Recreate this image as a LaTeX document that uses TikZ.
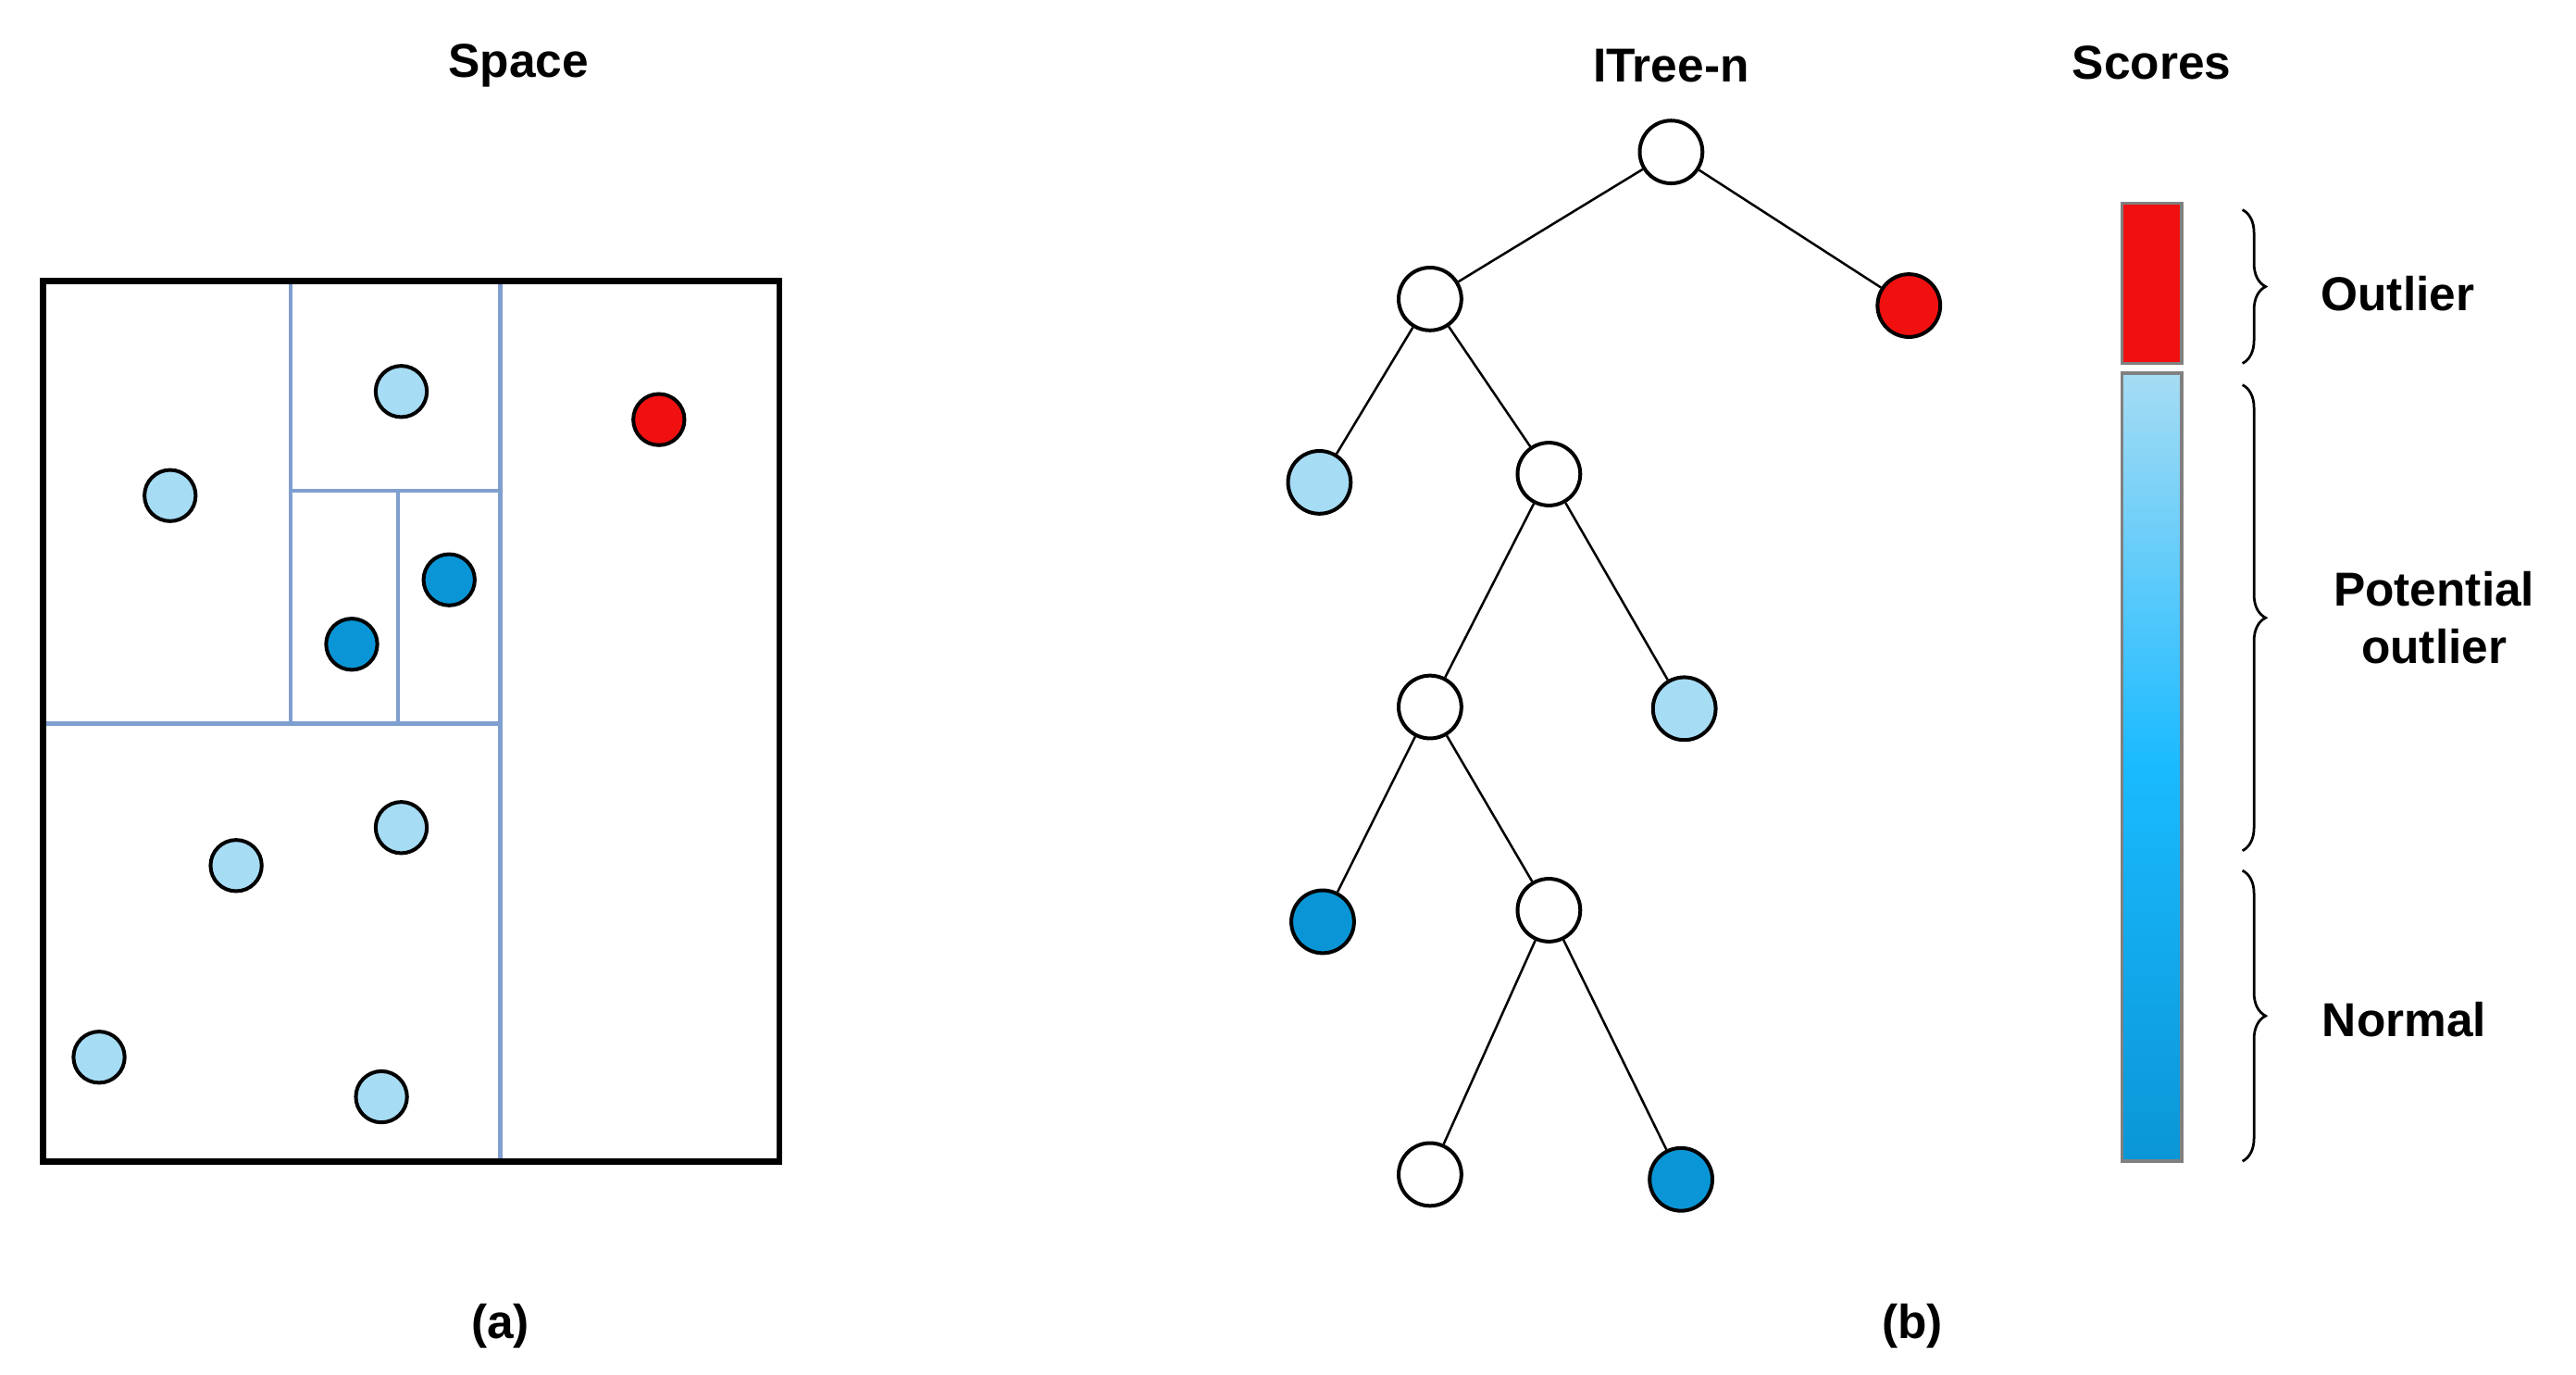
\documentclass[tikz,border=0pt]{standalone}
\usepackage{fontspec}
\setmainfont{Liberation Sans}
\usetikzlibrary{decorations.pathreplacing}
\definecolor{lb}{HTML}{A6DCF4}
\definecolor{db}{HTML}{0A96D6}
\definecolor{rd}{HTML}{F01010}
\definecolor{ln}{HTML}{7F9FCF}
\begin{document}
\begin{tikzpicture}[x=0.5mm,y=-0.5mm,
  lbl/.style={font=\fontsize{41}{50}\selectfont\bfseries},
  pt/.style={circle,draw=black,line width=3.2pt,inner sep=0pt,minimum size=15.5mm},
  tn/.style={circle,draw=black,line width=3.2pt,inner sep=0pt,minimum size=19mm},
  part/.style={draw=ln,line width=3.4pt},
  br/.style={decorate,decoration={brace,amplitude=7mm},line width=2.2pt}]
\useasboundingbox (0,0) rectangle (1560,832);
\node[lbl] (t1) at (314,40) {Space};
\node[lbl] (t2) at (1012,40) {ITree-n};
\node[lbl] (t3) at (1303,38) {Scores};
\node[lbl] (ca) at (303,803) {(a)};
\node[lbl] (cb) at (1158,803) {(b)};
% partitions
\draw[part] (303,170) -- (303,703);
\draw[part] (26,438) -- (303,438);
\draw[part] (176,170) -- (176,438);
\draw[part] (176,297) -- (303,297);
\draw[part] (241,297) -- (241,438);
\draw[line width=5.5pt] (26,170) rectangle (472,703);
\foreach \p/\x/\y in {a/243/237,b/103/300,c/143/524,d/243/501,e/60/640,f/231/664}
  \node[pt,fill=lb] (p\p) at (\x,\y) {};
\node[pt,fill=db] (pg) at (272,351) {};
\node[pt,fill=db] (ph) at (213,390) {};
\node[pt,fill=rd] (pr) at (399,254) {};
% tree
\node[tn,fill=white] (r) at (1012,92) {};
\node[tn,fill=white] (n1) at (866,181) {};
\node[tn,fill=rd] (o) at (1156,185) {};
\node[tn,fill=lb] (l1) at (799,292) {};
\node[tn,fill=white] (n2) at (938,287) {};
\node[tn,fill=white] (n3) at (866,428) {};
\node[tn,fill=lb] (l2) at (1020,429) {};
\node[tn,fill=db] (l3) at (801,558) {};
\node[tn,fill=white] (n4) at (938,551) {};
\node[tn,fill=white] (n5) at (866,711) {};
\node[tn,fill=db] (l4) at (1018,714) {};
\foreach \a/\b in {r/n1,r/o,n1/l1,n1/n2,n2/n3,n2/l2,n3/l3,n3/n4,n4/n5,n4/l4}
  \draw[line width=2pt] (\a) -- (\b);
% score bar
\node[draw=gray,line width=3pt,fill=rd,minimum width=18mm,minimum height=48.5mm,inner sep=0pt] (sr) at (1303,171.5) {};
\shade[top color=lb,bottom color=db,middle color=cyan!70!blue!90] (1285,226) rectangle (1321,703);
\draw[gray,line width=3pt] (1285,226) rectangle (1321,703);
\draw[br] (1358,127) -- (1358,220);
\draw[br] (1358,233) -- (1358,515);
\draw[br] (1358,527) -- (1358,703);
\node[lbl] (s1) at (1452,178) {Outlier};
\node[lbl,align=center] (s2) at (1474,374) {Potential\\outlier};
\node[lbl] (s3) at (1456,617) {Normal};
\end{tikzpicture}
\end{document}
